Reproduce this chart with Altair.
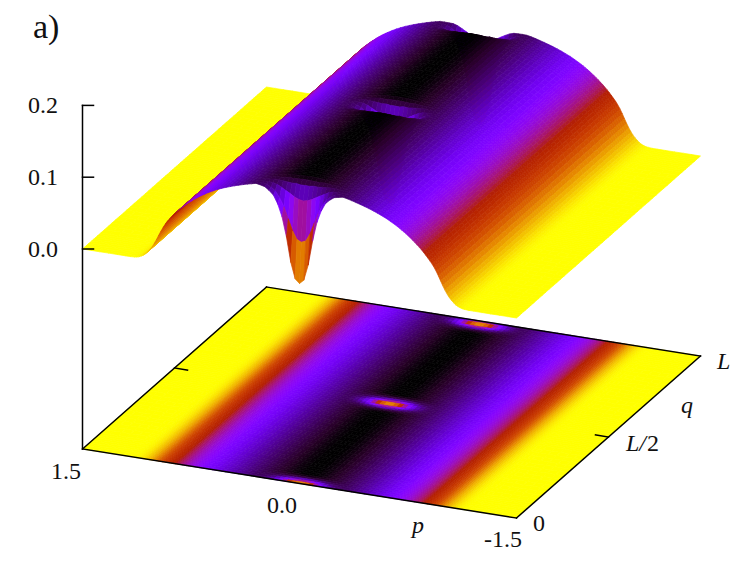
import math
import altair as alt
import pandas as pd

alt.data_transformers.disable_max_rows()

# position q as a fraction of L: finer rows near the three dips
q_nodes = [0.00, 0.01, 0.02, 0.03, 0.04, 0.05, 0.06, 0.07, 0.08, 0.09, 0.10,
           0.12, 0.14, 0.16, 0.18, 0.20, 0.22, 0.24, 0.26, 0.28, 0.30, 0.32,
           0.34, 0.36, 0.38, 0.40, 0.41, 0.42, 0.43, 0.44, 0.45, 0.46, 0.47,
           0.48, 0.49, 0.50, 0.51, 0.52, 0.53, 0.54, 0.55, 0.56, 0.57, 0.58,
           0.59, 0.60, 0.62, 0.64, 0.66, 0.68, 0.70, 0.72, 0.74, 0.76, 0.78,
           0.80, 0.82, 0.84, 0.86, 0.88, 0.90, 0.91, 0.92, 0.93, 0.94, 0.95,
           0.96, 0.97, 0.98, 0.99, 1.00]

# ridge height across |p| (as a fraction of the 3.0 wide p range), read from
# the picture, relative to the peak
ridge_d = [0, .01, .02, .03, .04, .05, .06, .07, .08, .09, .10,
           .11, .12, .13, .14, .15, .16, .17, .18, .19, .20, .21, .22,
           .225, .23, .235, .24, .245, .25, .255, .26, .265, .27, .275, .28,
           .285, .29, .295, .30, .305, .31, .315, .32, .325, .33, .335, .34,
           .345, .35, .355, .36, .365, .37, .375, .38, .39, .40, .42, .44,
           .46, .48, .50]
ridge_shape = [1.000, .999, .997, .993, .988, .982, .975, .968, .960, .951, .941,
               .931, .920, .908, .895, .882, .867, .851, .834, .815, .795, .772, .747,
               .734, .720, .705, .690, .674, .657, .640, .621, .602, .582, .562, .540,
               .517, .492, .467, .440, .412, .380, .342, .300, .255, .210, .168, .130,
               .100, .075, .053, .035, .022, .012, .006, .003, 0, 0, 0, 0,
               0, 0, 0]
ridge_peak = 0.138

# dip factor near p = 0: rows are q distance from a dip (0, .01 ...),
# columns are distance from p = 0 (0, .01 ... of the p range)
dip_centres = [0.0, 0.49, 0.98]
dip_table = [
    [.00, .04, .20, .45, .65, .78, .87, .92, .96, .98, 1.0],
    [.40, .42, .50, .62, .74, .83, .90, .94, .97, .99, 1.0],
    [.80, .81, .83, .86, .89, .92, .95, .97, .98, .99, 1.0],
    [.94, .94, .95, .95, .96, .97, .98, .99, .99, 1.0, 1.0],
    [.98, .98, .98, .98, .99, .99, .99, 1.0, 1.0, 1.0, 1.0],
]

z_ticks = [0.0, 0.1, 0.2]
z_tick_labels = ["0.0", "0.1", "0.2"]

# columns of the surface, from p = 1.5 (u = 0) to p = -1.5 (u = 1)
columns = [(0.5 - d, s) for d, s in zip(reversed(ridge_d[1:]), reversed(ridge_shape[1:]))] + \
          [(0.5 + d, s) for d, s in zip(ridge_d, ridge_shape)]


def height(i, q):
    u, shape = columns[i]
    dq = min(abs(q - c) for c in dip_centres)
    row, col = int(round(dq * 100)), int(round(abs(u - 0.5) * 100))
    factor = dip_table[row][col] if row < len(dip_table) and col <= 10 else 1.0
    return ridge_peak * shape * factor


# the 3D view of the plot box, on page pixels
def project(u, q, z):
    return 82.5 + 434 * u + 184 * q, 249 + 69 * u - 162 * q - 718 * z


Z_FLOOR = -200 / 718


def cells(floor):
    feats = []
    for j in range(len(q_nodes) - 2, -1, -1):
        q0, q1 = q_nodes[j], q_nodes[j + 1]
        for i in range(len(columns) - 1):
            corners = [(i, q0), (i + 1, q0), (i + 1, q1), (i, q1)]
            zs = [height(a, b) for a, b in corners]
            pts = []
            for (a, b), z in zip(corners, zs):
                x, y = project(columns[a][0], b, Z_FLOOR if floor else z)
                pts.append([round(x, 1), round(y, 1)])
            feats.append({"type": "Feature",
                          "geometry": {"type": "Polygon", "coordinates": [pts + [pts[0]]]},
                          "properties": {"z": round(sum(zs) / 4, 5)}})
    return feats


# gnuplot's default palette (7,5,15), run from high to low
stops = [k / 40 for k in range(41)]
palette = []
for s in stops:
    r = math.sqrt(s)
    g = s ** 3
    b = max(0.0, math.sin(2 * math.pi * s))
    palette.append("#%02x%02x%02x" % (round(255 * r), round(255 * g), round(255 * b)))
color_scale = alt.Scale(domain=[ridge_peak * (1 - s) for s in stops], range=palette,
                        interpolate="rgb", clamp=True)

x_scale = alt.Scale(domain=[8, 741], nice=False, zero=False)
y_scale = alt.Scale(domain=[562, 8], nice=False, zero=False)


def surface(feats):
    return alt.Chart(alt.Data(values=feats)).mark_geoshape(strokeWidth=0.7).encode(
        color=alt.Color("properties.z:Q", scale=color_scale, legend=None),
        stroke=alt.Stroke("properties.z:Q", scale=color_scale, legend=None),
    ).project(type="identity", scale=1, translate=[-8, -8])


segments = []


def seg(a, b):
    x0, y0 = project(a[0], a[1], a[2])
    x1, y1 = project(b[0], b[1], b[2])
    segments.append({"x0": x0, "y0": y0, "x1": x1, "y1": y1})


# floor frame
seg((0, 0, Z_FLOOR), (1, 0, Z_FLOOR))
seg((1, 0, Z_FLOOR), (1, 1, Z_FLOOR))
seg((1, 1, Z_FLOOR), (0, 1, Z_FLOOR))
seg((0, 1, Z_FLOOR), (0, 0, Z_FLOOR))
# q ticks at L/2
seg((0, 0.5, Z_FLOOR), (0.03, 0.5, Z_FLOOR))
seg((1, 0.5, Z_FLOOR), (0.97, 0.5, Z_FLOOR))
# z axis and its ticks
seg((0, 0, Z_FLOOR), (0, 0, z_ticks[-1]))
for t in z_ticks:
    a = project(0, 0, t)
    segments.append({"x0": a[0], "y0": a[1], "x1": a[0] + 11, "y1": a[1]})

lines = alt.Chart(pd.DataFrame(segments)).mark_rule(
    color="black", strokeWidth=1.5, strokeCap="square"
).encode(
    x=alt.X("x0:Q", scale=x_scale, axis=None),
    x2="x1:Q",
    y=alt.Y("y0:Q", scale=y_scale, axis=None),
    y2="y1:Q",
)

FONT = "Liberation Serif"


def labels(rows, size, style="normal"):
    return alt.Chart(pd.DataFrame(rows, columns=["t", "x", "y"])).mark_text(
        font=FONT, fontSize=size, fontStyle=style, align="left",
        baseline="alphabetic", color="#111111"
    ).encode(
        x=alt.X("x:Q", scale=x_scale, axis=None),
        y=alt.Y("y:Q", scale=y_scale, axis=None),
        text="t:N",
    )


roman = labels(
    [(z_tick_labels[0], 28, 257), (z_tick_labels[1], 28, 185), (z_tick_labels[2], 28, 113),
     ("1.5", 51, 479), ("0.0", 267, 513), ("-1.5", 484, 547), ("0", 533, 531), ("2", 647, 451)],
    24,
)
italic = labels([("p", 412, 533), ("L/", 626, 451), ("q", 681, 413), ("L", 717, 369)], 24, "italic")
panel = labels([("a)", 33, 38)], 34)

chart = alt.layer(surface(cells(True)), surface(cells(False)), lines, roman, italic, panel).properties(
    width=733, height=554, padding=0, background="white"
).configure_view(stroke=None)

chart.save("out.html", embed_options={"renderer": "svg", "actions": False})
